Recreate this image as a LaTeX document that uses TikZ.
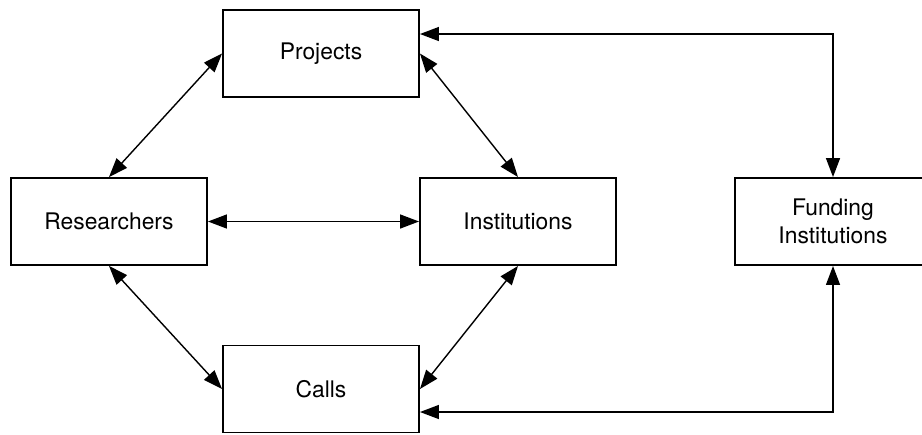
\documentclass[tikz,border=0pt]{standalone}
\usepackage{fontspec}
\setmainfont{TeX Gyre Heros}
\usetikzlibrary{arrows.meta}

\tikzset{
    box/.style={draw, line width=1.1pt, minimum width=3.92cm, minimum height=1.74cm,
        inner sep=0pt, align=center, font=\fontsize{13}{15.6}\selectfont},
    link/.style={line width=0.8pt,
        {Triangle[length=0.38cm,width=0.28cm]}-{Triangle[length=0.38cm,width=0.28cm]}}
}

\begin{document}
\begin{tikzpicture}[x=0.02cm, y=-0.02cm]
    \useasboundingbox (0,0) rectangle (922,434);

    \node[box] (projects)     at (321,53.5)  {Projects};
    \node[box] (researchers)  at (109,221.5) {Researchers};
    \node[box] (institutions) at (518,221.5) {Institutions};
    \node[box] (calls)        at (321,389)   {Calls};
    \node[box] (funding)      at (833,221.5) {Funding\\Institutions};

    \draw [link] (researchers.north) -- (projects.west);
    \draw [link] (researchers.south) -- (calls.west);
    \draw [link] (projects.east)     -- (institutions.north);
    \draw [link] (institutions.south) -- (calls.east);
    \draw [link] (researchers.east)  -- (institutions.west);

    \draw [link] ([yshift=0.39cm]projects.east) -| (funding.north);
    \draw [link] ([yshift=-0.46cm]calls.east)   -| (funding.south);
\end{tikzpicture}
\end{document}
